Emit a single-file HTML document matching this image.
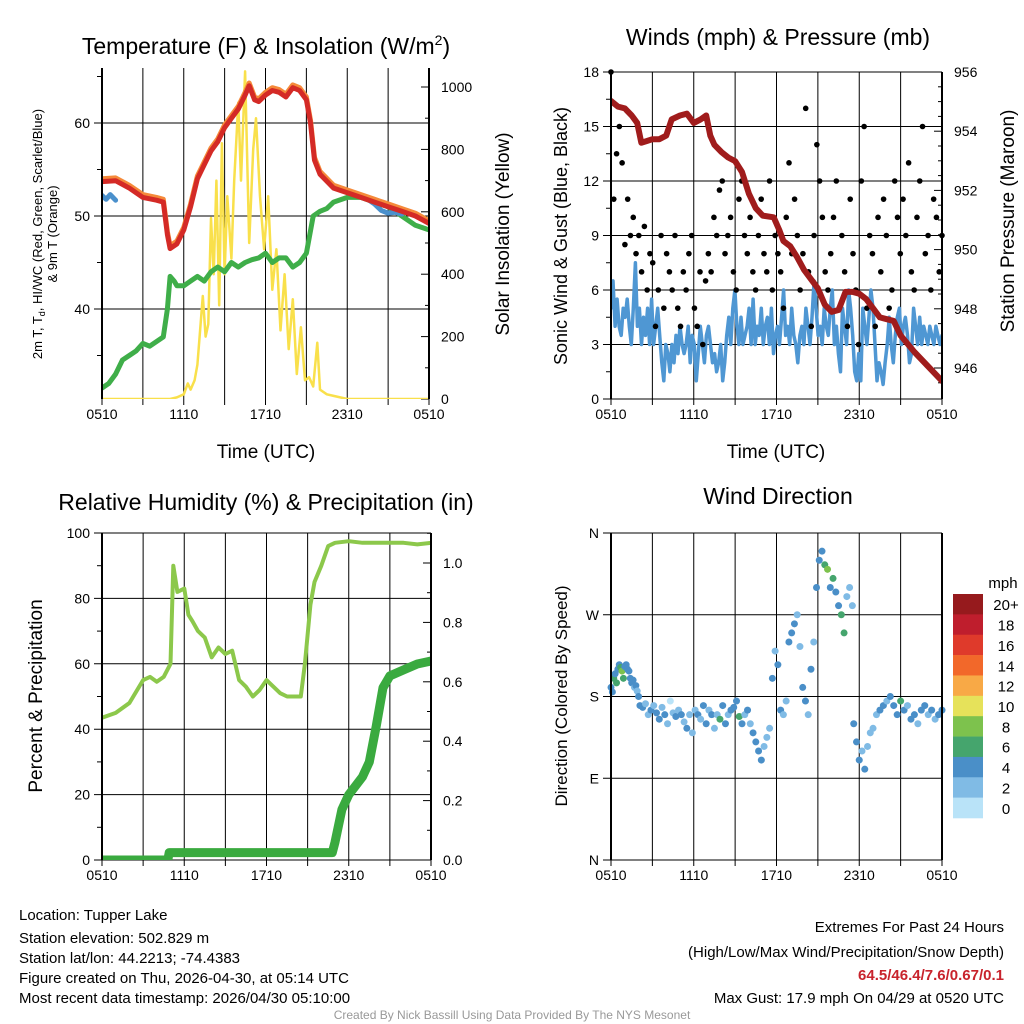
<!DOCTYPE html>
<html><head><meta charset="utf-8"><style>
body{margin:0;background:#fff}
svg{display:block;font-family:"Liberation Sans",Arial,sans-serif}
</style></head><body>
<svg id="s" width="1024" height="1024" viewBox="0 0 1024 1024" xmlns="http://www.w3.org/2000/svg">
<g id="static">
<text x="266" y="54" font-size="23" text-anchor="middle">Temperature (F) &amp; Insolation (W/m<tspan dy="-9" font-size="14">2</tspan><tspan dy="9">)</tspan></text>
<text x="778" y="45" font-size="23" text-anchor="middle">Winds (mph) &amp; Pressure (mb)</text>
<text x="266" y="510" font-size="23" text-anchor="middle">Relative Humidity (%) &amp; Precipitation (in)</text>
<text x="778" y="504" font-size="23" text-anchor="middle">Wind Direction</text>
<text x="266" y="458" font-size="19" text-anchor="middle">Time (UTC)</text>
<text x="776" y="458" font-size="19" text-anchor="middle">Time (UTC)</text>
<text transform="translate(42,234) rotate(-90)" font-size="13" text-anchor="middle">2m T, T<tspan font-size="9" dy="3">d</tspan><tspan dy="-3">, HI/WC (Red, Green, Scarlet/Blue)</tspan></text>
<text transform="translate(57,234) rotate(-90)" font-size="13" text-anchor="middle">&amp; 9m T (Orange)</text>
<text transform="translate(509,234) rotate(-90)" font-size="19" text-anchor="middle">Solar Insolation (Yellow)</text>
<text transform="translate(567,236) rotate(-90)" font-size="18" text-anchor="middle">Sonic Wind &amp; Gust (Blue, Black)</text>
<text transform="translate(1014,221) rotate(-90)" font-size="19" text-anchor="middle">Station Pressure (Maroon)</text>
<text transform="translate(42,696) rotate(-90)" font-size="19" text-anchor="middle">Percent &amp; Precipitation</text>
<text transform="translate(567,696) rotate(-90)" font-size="17" text-anchor="middle">Direction (Colored By Speed)</text>
<text x="1003" y="588" font-size="15" text-anchor="middle">mph</text>
<g font-size="15">
<text x="19" y="920">Location: Tupper Lake</text>
<text x="19" y="943">Station elevation: 502.829 m</text>
<text x="19" y="963">Station lat/lon: 44.2213; -74.4383</text>
<text x="19" y="983">Figure created on Thu, 2026-04-30, at 05:14 UTC</text>
<text x="19" y="1003">Most recent data timestamp: 2026/04/30 05:10:00</text>
</g>
<g font-size="15" text-anchor="end">
<text x="1004" y="932">Extremes For Past 24 Hours</text>
<text x="1004" y="957">(High/Low/Max Wind/Precipitation/Snow Depth)</text>
<text x="1004" y="980" fill="#c8232c" font-weight="bold">64.5/46.4/7.6/0.67/0.1</text>
<text x="1004" y="1003">Max Gust: 17.9 mph On 04/29 at 0520 UTC</text>
</g>
<text x="512" y="1019" font-size="12" fill="#999" text-anchor="middle">Created By Nick Bassill Using Data Provided By The NYS Mesonet</text>
</g>
</svg>
<script>
// ---- Data ----
const xTickLabels=["0510","1110","1710","2310","0510"];
const redT=[[0,53.7],[1,53.8],[2,53],[3,52],[4,51.7],[4.5,51.5],[4.8,48],[5,46.5],[5.5,47],[6,48.5],[6.5,51],[7,54],[7.5,55.5],[8,57],[8.5,58],[9,59.5],[9.5,60.5],[10,61.5],[10.5,63],[10.8,64],[11.2,62.5],[11.5,62.3],[12,63],[12.5,63.5],[13,63.3],[13.5,62.8],[14,63.8],[14.5,63.5],[15,62.5],[15.3,60],[15.6,56],[16,54.5],[17,53],[18,52.5],[19,52],[20,51.5],[21,51],[22,50.5],[23,50],[24,49.2]];
const greenTd=[[0,31.5],[0.5,32],[1,33],[1.5,34.5],[2,35],[2.5,35.5],[3,36.3],[3.5,36],[4,36.5],[4.5,37],[4.8,40],[5,43.5],[5.3,43],[5.5,42.5],[6,42.5],[6.5,43],[7,43.5],[7.5,43],[8,44],[8.5,44.5],[9,44],[9.5,45],[10,44.5],[10.5,45],[11,45.3],[11.5,45.5],[12,46],[12.5,45],[13,45.5],[13.5,45.5],[14,44.5],[14.5,45],[15,46],[15.5,50],[16,50.5],[16.5,50.8],[17,51.5],[18,52],[19,52],[20,51.5],[21,51],[22,50],[23,49],[24,48.5]];
const blueHI=[[0,52.2],[0.3,51.8],[0.6,52.3],[1,51.7]];
const blueHI2=[[19.5,51.8],[20,51.3],[20.5,50.6],[21,50.3],[21.5,50.4],[22,50.2]];
const solar=[[0,0],[5,0],[5.5,5],[6,15],[6.3,50],[6.5,30],[6.8,60],[7,110],[7.2,220],[7.4,330],[7.6,200],[7.8,240],[8,580],[8.2,400],[8.4,700],[8.6,300],[8.8,820],[9,400],[9.2,650],[9.5,450],[9.7,700],[10,950],[10.2,700],[10.5,1050],[10.8,500],[11.1,800],[11.3,900],[11.6,650],[11.9,480],[12.2,650],[12.5,350],[12.8,480],[13.1,220],[13.4,400],[13.7,160],[14,320],[14.3,80],[14.6,230],[14.9,60],[15.2,70],[15.5,40],[15.8,180],[16,30],[16.5,15],[17,10],[18,0],[24,0]];
const pressure=[[0,955.02],[0.5,954.83],[1,954.77],[1.5,954.53],[1.9,954.28],[2.2,953.61],[2.6,953.67],[3,953.73],[3.5,953.73],[4,953.85],[4.4,954.4],[5,954.53],[5.5,954.59],[6,954.28],[6.5,954.4],[6.9,954.53],[7.2,953.85],[7.5,953.54],[8,953.3],[8.5,953.11],[9,952.99],[9.5,952.62],[10,951.89],[10.5,951.4],[11,951.15],[11.8,951.09],[12.2,950.66],[12.5,950.29],[13,950.11],[13.5,949.74],[14,949.31],[14.5,949.0],[15,948.69],[15.5,948.14],[16,947.9],[16.5,947.96],[17,948.57],[17.5,948.57],[18,948.51],[18.5,948.33],[19,948.02],[19.5,947.71],[20,947.65],[20.5,947.59],[21,947.1],[22,946.54],[23,946.05],[24,945.56]];
const sonic=[5,6.5,4,5.5,4,3.5,5,4.5,5.5,4,3,5,7.5,4,5,3,4.5,3.5,5,3,5.5,3,4,5,3.5,2,1,3,2.5,1.5,3,2,3.5,2.5,4,3,2.5,3,4,2,3.5,3,1,2.5,4,3,2,3.5,4,3,2,2.5,1.5,2,3,1,2,3.5,4.5,3,5,6,4,3,4.5,3,3.5,4,5,3,5.5,3,4,3.5,5,3,4,4.5,3,5,2.5,3.5,4,3,4.5,6,3.5,4,3,5,3.5,3,2,3.5,4,3,5,4,3,4.5,6.5,5,3.5,4,3,5,4,3.5,5,6,3,4,2.5,1.5,5,4,3,6,5,3.5,1.5,1,2.5,1,5,4,3,4.5,6,5,3,1,2,1.5,0.8,2,3,4.5,3,2,3.5,4.5,5,3,4,4.5,3.5,2,2.5,5,4,3,4.5,3,4,3.5,3,4,3.5,3,4,3.5,3,3.5];
const gust=[18,11,13.5,15,13,8.5,11,9,10,8,9,7,9.5,6,8,7.5,4,6,9,5,8,7,6,9,5,4,7,6,8,9,5,4,7,3,6.5,8,7,10,9,11.5,12,8,9,10,7,6,11,12,9,8,10,7,6,9,11,8,7,12,6,9,8,7,5,10,13,8,11,9,6,8,16,7,4,9,14,12,10,7,6,8,10,12,5,9,7,4,11,8,6,3,12,15,5,9,8,4,10,7,11,9,5,6,12,10,8,11,9,13,7,6,10,12,15,8,9,6,11,10,7,9];
const rh=[[0,43.5],[1,45],[2,48],[3,55],[3.5,56],[4,54.5],[4.5,56],[5,60],[5.2,90],[5.5,82],[6,83],[6.3,75],[6.6,73],[7,70],[7.5,68],[8,62],[8.5,65],[9,63],[9.5,64],[10,55],[10.5,53],[11,50],[11.5,52],[12,55],[12.5,53],[13,51],[13.5,50],[14.5,50],[14.8,60],[15.2,78],[15.5,85],[16,90],[16.5,96],[17,97],[18,97.5],[19,97],[20,97],[21,97],[22,97],[23,96.5],[24,97]];
const precip=[[0,0],[4.8,0],[4.9,0.025],[16.8,0.025],[17,0.06],[17.5,0.17],[18,0.22],[19,0.28],[19.5,0.33],[20,0.45],[20.5,0.58],[21,0.62],[22,0.64],[23,0.66],[24,0.67]];
const wdirTime=[0,0.1,0.2,0.3,0.4,0.5,0.6,0.7,0.8,0.9,1.0,1.1,1.2,1.3,1.4,1.5,1.6,1.7,1.8,1.9,2.0,
2.1,2.3,2.5,2.7,2.9,3.1,3.3,3.5,3.7,3.9,4.1,4.3,4.5,4.7,4.9,5.1,5.3,5.5,5.7,5.9,
6.1,6.3,6.5,6.7,6.9,7.1,7.3,7.5,7.7,7.9,8.1,8.3,8.5,8.7,8.9,9.1,9.3,9.5,9.7,9.9,
10.1,10.3,10.5,10.7,10.9,11.1,11.3,11.5,11.7,11.9,12.1,12.3,12.5,12.7,12.9,
13.1,13.3,13.5,13.7,13.9,14.1,14.3,14.5,14.7,14.9,
15.1,15.3,15.5,15.7,15.9,16.1,16.3,16.5,16.7,16.9,17.1,17.3,17.5,
17.6,17.8,18,18.2,18.4,18.6,18.8,19,
19.25,19.5,19.75,20,20.25,20.5,20.75,21,21.25,21.5,21.75,22,22.25,22.5,22.75,23,23.25,23.5,23.75,24];
const wdirDeg=[190,185,200,205,195,210,215,212,208,200,213,215,210,208,200,195,198,190,192,186,180,
170,168,172,160,165,170,162,155,168,160,150,175,162,158,165,160,152,145,160,140,
165,160,155,170,150,165,160,145,160,155,170,150,160,165,168,175,158,150,160,165,
150,140,130,120,110,125,135,145,200,230,215,165,160,175,240,
250,260,270,235,190,175,160,210,240,300,
330,340,325,320,300,310,295,280,270,250,290,300,280,
150,130,110,120,100,125,140,145,
160,165,170,175,180,170,160,175,165,170,155,160,150,165,170,160,165,155,160,165];
const wdirSpd=[4,4,6,4,6,4,4,6,8,6,4,4,4,4,4,4,4,2,4,2,4,
4,4,2,2,4,2,4,4,2,4,2,0,2,4,2,4,2,4,2,2,
2,4,2,4,4,2,4,2,2,6,4,4,2,4,4,4,6,4,2,4,
2,4,4,4,4,2,2,2,4,2,4,4,2,2,4,
4,4,2,2,4,4,2,4,2,4,
4,4,6,8,4,6,4,4,6,6,2,2,2,
4,4,4,2,4,2,2,2,
2,4,4,2,4,4,4,6,4,2,4,4,2,4,4,2,4,2,4,4];
const cbLabels=["20+","18","16","14","12","10","8","6","4","2","0"];
const cbColors=["#961a1d","#bf1e2d","#df3a2b","#f2682a","#f8a946","#e6e25a","#7dc24d","#45a56d","#4a8fc8","#80bbe5","#b9e3f8"];

// ---- helpers ----
const NS="http://www.w3.org/2000/svg";
const svg=document.getElementById('s');
function mk(tag,attrs,parent){const e=document.createElementNS(NS,tag);for(const k in attrs)e.setAttribute(k,attrs[k]);(parent||svg).appendChild(e);return e;}
function lin(d0,d1,r0,r1){return v=>r0+(v-d0)*(r1-r0)/(d1-d0);}
function pathD(pts,fx,fy){return pts.map((p,i)=>(i?'L':'M')+fx(p[0]).toFixed(1)+' '+fy(p[1]).toFixed(1)).join('');}

function panel(name,x0,x1,y0,y1){
  const g=mk('g',{});
  
  
  const cp=mk('clipPath',{id:'clip-'+name},g);
  mk('rect',{x:x0,y:y0,width:x1-x0,height:y1-y0},cp);
  const fx=lin(0,24,x0,x1);
  for(let h=0;h<=24;h+=3){
    const x=fx(h);
    mk('line',{x1:x,x2:x,y1:y0,y2:y1+6,stroke:'#000','stroke-width':1},g);
  }
  xTickLabels.forEach((l,i)=>{
    const x=fx(i*6);
    const t=mk('text',{x:x,y:y1+20,'font-size':14,'text-anchor':'middle'},g);t.textContent=l;
    
    
  });
  return {g,fx,clip:'url(#clip-'+name+')'};
}
function hgrid(P,x0,x1,vals,fy,labels){
  vals.forEach((v,i)=>{
    const y=fy(v);
    mk('line',{x1:x0-8,x2:x1,y1:y,y2:y,stroke:'#000','stroke-width':1},P.g);
    const t=mk('text',{x:x0-12,y:y+5,'font-size':14,'text-anchor':'end'},P.g);
    t.textContent=labels[i];
    
    
  });
}
function rticks(P,x1,vals,fy,labels,minorVals){
  vals.forEach((v,i)=>{const y=fy(v);
    mk('line',{x1:x1-8,x2:x1,y1:y,y2:y,stroke:'#000'},P.g);
    const t=mk('text',{x:x1+12,y:y+5,'font-size':14},P.g);t.textContent=labels[i];
    
    });
  (minorVals||[]).forEach(v=>{const y=fy(v);mk('line',{x1:x1-4,x2:x1,y1:y,y2:y,stroke:'#000'},P.g);});
}
function frame(P,x0,x1,y0,y1){
  mk('line',{x1:x0,x2:x0,y1:y0,y2:y1,stroke:'#000','stroke-width':2},P.g);
  mk('line',{x1:x1,x2:x1,y1:y0,y2:y1,stroke:'#000','stroke-width':2},P.g);
}
function line(P,pts,fy,color,w,name){
  const p=mk('path',{d:pathD(pts,P.fx,fy),fill:'none',stroke:color,'stroke-width':w,'stroke-linejoin':'round','stroke-linecap':'round','clip-path':P.clip},P.g);
  
  
}

// ---- Panel 1: Temperature ----
{
  const x0=102,x1=429,y0=68,y1=399;
  const P=panel('temperature-panel',x0,x1,y0,y1);
  const fy=lin(50,60,216,123);
  const fs=lin(0,1000,399,87);
  hgrid(P,x0,x1,[40,50,60],fy,['40','50','60']);
  [35,45,55,65].forEach(v=>mk('line',{x1:x0-5,x2:x0,y1:fy(v),y2:fy(v),stroke:'#000'},P.g));
  rticks(P,x1,[0,200,400,600,800,1000],fs,['0','200','400','600','800','1000'],[100,300,500,700,900]);
  line(P,solar,fs,'#f9e04b',2.5,'solar-insolation-line');
  line(P,greenTd,fy,'#3fae49',5,'dewpoint-line');
  line(P,blueHI,fy,'#4a90cc',5,'heat-index-line');
  line(P,blueHI2,fy,'#4a90cc',5,'wind-chill-line');
  line(P,redT.map(p=>[p[0],p[1]+0.3]),fy,'#f58a3a',5,'temp-9m-line');
  line(P,redT,fy,'#d42a26',5,'temp-2m-line');
  frame(P,x0,x1,y0,y1);
}
// ---- Panel 2: Winds ----
{
  const x0=611,x1=942,y0=72,y1=399;
  const P=panel('wind-panel',x0,x1,y0,y1);
  const fy=lin(0,18,399,72);
  const fp=lin(946,956,368,72);
  hgrid(P,x0,x1,[0,3,6,9,12,15,18],fy,['0','3','6','9','12','15','18']);
  [1.5,4.5,7.5,10.5,13.5,16.5].forEach(v=>mk('line',{x1:x0-5,x2:x0,y1:fy(v),y2:fy(v),stroke:'#000'},P.g));
  rticks(P,x1,[946,948,950,952,954,956],fp,['946','948','950','952','954','956'],[945.5,946.5,947,947.5,948.5,949,949.5,950.5,951,951.5,952.5,953,953.5,954.5,955,955.5]);
  const sonicPts=sonic.map((v,i)=>[i*24/(sonic.length-1),v]);
  line(P,sonicPts,fy,'#4f97d3',3.5,'sonic-wind-line');
  gust.forEach((v,i)=>{const c=mk('circle',{cx:P.fx(i*24/(gust.length-1)),cy:fy(v),r:2.8,fill:'#000'},P.g);
    
    });
  line(P,pressure,fp,'#a01c1c',6,'pressure-line');
  frame(P,x0,x1,y0,y1);
}
// ---- Panel 3: RH & precip ----
{
  const x0=102,x1=431,y0=533,y1=860;
  const P=panel('humidity-panel',x0,x1,y0,y1);
  const fy=lin(0,100,860,533);
  const fr=lin(0,1.0,860,563);
  hgrid(P,x0,x1,[0,20,40,60,80,100],fy,['0','20','40','60','80','100']);
  [10,30,50,70,90].forEach(v=>mk('line',{x1:x0-5,x2:x0,y1:fy(v),y2:fy(v),stroke:'#000'},P.g));
  rticks(P,x1,[0,0.2,0.4,0.6,0.8,1.0],fr,['0.0','0.2','0.4','0.6','0.8','1.0'],[0.1,0.3,0.5,0.7,0.9,1.1]);
  line(P,rh,fy,'#8cc84b',4,'relative-humidity-line');
  line(P,precip,fr,'#3aaa3f',9,'precipitation-line');
  frame(P,x0,x1,y0,y1);
}
// ---- Panel 4: Wind direction ----
{
  const x0=611,x1=942,y0=533,y1=860;
  const P=panel('wind-direction-panel',x0,x1,y0,y1);
  const fy=lin(0,360,860,533);
  hgrid(P,x0,x1,[0,90,180,270,360],fy,['N','E','S','W','N']);
  wdirTime.forEach((t,i)=>{
    let idx=10-Math.min(10,Math.floor(wdirSpd[i]/2));
    const c=mk('circle',{cx:P.fx(t),cy:fy(wdirDeg[i]),r:3.5,fill:cbColors[idx]},P.g);
    
    
  });
  frame(P,x0,x1,y0,y1);
  const cb=mk('g',{},svg);
  
  
  const h=224/11;
  cbColors.forEach((c,i)=>{
    mk('rect',{x:953,y:594+i*h,width:30,height:h+0.3,fill:c},cb);
    const t=mk('text',{x:1006,y:594+i*h+h/2+6,'font-size':15,'text-anchor':'middle'},cb);
    t.textContent=cbLabels[i];
    
    
  });
}
</script>
</body></html>
